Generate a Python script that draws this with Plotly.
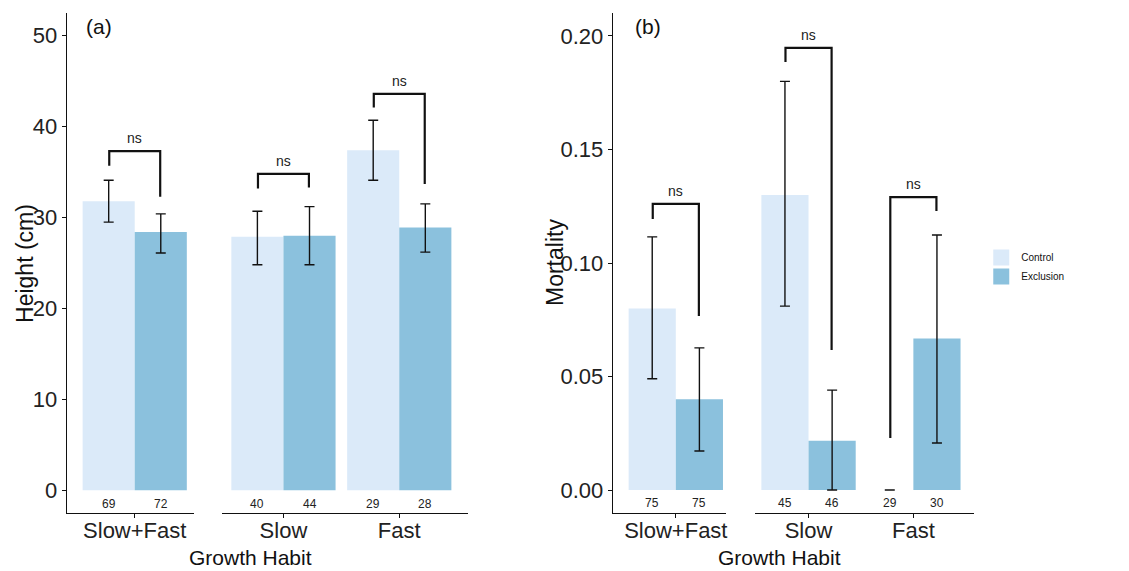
import plotly.graph_objects as go

# ---------------- data ----------------
groups = ["Slow+Fast", "Slow", "Fast"]
treatments = ["Control", "Exclusion"]
bar_colors = ["#DBEAF9", "#8BC1DD"]

# Panel (a): height (cm)
height_control = [31.8, 27.9, 37.4]
height_control_lo = [29.5, 24.8, 34.1]
height_control_hi = [34.1, 30.7, 40.7]
height_exclusion = [28.4, 28.0, 28.9]
height_exclusion_lo = [26.1, 24.8, 26.2]
height_exclusion_hi = [30.4, 31.2, 31.5]
height_n_control = [69, 40, 29]
height_n_exclusion = [72, 44, 28]
height_bracket_top = [37.3, 34.8, 43.6]
height_bracket_left_end = [35.7, 33.2, 42.1]
height_bracket_right_end = [32.3, 33.3, 33.7]

# Panel (b): mortality
mort_control = [0.080, 0.130, 0.0]
mort_control_lo = [0.049, 0.081, 0.0]
mort_control_hi = [0.1115, 0.180, 0.0]
mort_exclusion = [0.040, 0.0217, 0.0667]
mort_exclusion_lo = [0.0172, 0.0, 0.0207]
mort_exclusion_hi = [0.0626, 0.044, 0.1123]
mort_n_control = [75, 45, 29]
mort_n_exclusion = [75, 46, 30]
mort_bracket_top = [0.126, 0.1947, 0.129]
mort_bracket_left_end = [0.1194, 0.1885, 0.0229]
mort_bracket_right_end = [0.0767, 0.0617, 0.1229]

sig_labels = ["ns", "ns", "ns"]

# ---------------- layout helpers ----------------
W, H = 1129, 571
FONT = "Arial, Liberation Sans, sans-serif"


def fx(p):
    return p / W


def fy(p):
    return 1 - p / H


# facet index and position of each group
facet_of = [(0, 0), (1, 0), (1, 1)]

panels = [
    dict(
        yaxis="y", letter="(a)", ytitle="Height (cm)",
        means=[height_control, height_exclusion],
        los=[height_control_lo, height_exclusion_lo],
        his=[height_control_hi, height_exclusion_hi],
        ns=[height_n_control, height_n_exclusion],
        btop=height_bracket_top, bl=height_bracket_left_end, br=height_bracket_right_end,
        xaxes=["x", "x2"],
        yrange=[-2.5, 52.5], ytick=[0, 10, 20, 30, 40, 50], yfmt="d",
        nlabel_y=-1.5,
        xdom=[(67, 194), (222, 469)],
        xrng=[(-0.586, 0.509), (-0.534, 1.595)],
        letter_x=99, ytitle_x=25, xtitle_x=251,
    ),
    dict(
        yaxis="y2", letter="(b)", ytitle="Mortality",
        means=[mort_control, mort_exclusion],
        los=[mort_control_lo, mort_exclusion_lo],
        his=[mort_control_hi, mort_exclusion_hi],
        ns=[mort_n_control, mort_n_exclusion],
        btop=mort_bracket_top, bl=mort_bracket_left_end, br=mort_bracket_right_end,
        xaxes=["x3", "x4"],
        yrange=[-0.0101, 0.2101], ytick=[0, 0.05, 0.10, 0.15, 0.20], yfmt=".2f",
        nlabel_y=-0.0057,
        xdom=[(614, 727), (756, 976)],
        xrng=[(-0.6, 0.476), (-0.514, 1.581)],
        letter_x=649, ytitle_x=556, xtitle_x=781,
    ),
]

BAR_W = 0.45
LEG_DX = 0.22

fig = go.Figure()
annotations = []
layout_axes = {}

for pi, P in enumerate(panels):
    ykey = P["yaxis"]
    for fi in range(2):
        xname = P["xaxes"][fi]
        idxs = [g for g in range(len(groups)) if facet_of[g][0] == fi]
        pos = [facet_of[g][1] for g in idxs]
        # bars
        for ti, tname in enumerate(treatments):
            fig.add_trace(go.Bar(
                x=pos, y=[P["means"][ti][g] for g in idxs],
                width=BAR_W, offset=-BAR_W if ti == 0 else 0,
                marker=dict(color=bar_colors[ti], line=dict(width=0)),
                xaxis=xname, yaxis=ykey, showlegend=False, name=tname,
                hoverinfo="skip",
            ))
        # error bars
        for ti in range(2):
            xs = [p + (-BAR_W / 2 if ti == 0 else BAR_W / 2) for p in pos]
            m = [P["means"][ti][g] for g in idxs]
            hi = [P["his"][ti][g] - P["means"][ti][g] for g in idxs]
            lo = [P["means"][ti][g] - P["los"][ti][g] for g in idxs]
            fig.add_trace(go.Scatter(
                x=xs, y=m, mode="markers",
                marker=dict(size=1, color="rgba(0,0,0,0)"),
                error_y=dict(type="data", symmetric=False, array=hi, arrayminus=lo,
                             color="#111111", thickness=1.4, width=5),
                xaxis=xname, yaxis=ykey, showlegend=False, hoverinfo="skip",
            ))
            # sample size labels
            for g, xv in zip(idxs, xs):
                annotations.append(dict(
                    x=xv, y=P["nlabel_y"], xref=xname, yref=ykey,
                    xanchor="center", yanchor="middle",
                    text=str(P["ns"][ti][g]), showarrow=False,
                    font=dict(size=12, color="#222222", family=FONT),
                ))
        # significance brackets
        for g, p in zip(idxs, pos):
            fig.add_trace(go.Scatter(
                x=[p - LEG_DX, p - LEG_DX, p + LEG_DX, p + LEG_DX],
                y=[P["bl"][g], P["btop"][g], P["btop"][g], P["br"][g]],
                mode="lines", line=dict(color="#111111", width=2.2),
                xaxis=xname, yaxis=ykey, showlegend=False, hoverinfo="skip",
            ))
            annotations.append(dict(
                x=p, y=P["btop"][g], xref=xname, yref=ykey, text=sig_labels[g],
                showarrow=False, xanchor="center", yanchor="bottom", yshift=3,
                font=dict(size=14, color="#222222", family=FONT),
            ))
        # x axis
        key = "xaxis" if xname == "x" else "xaxis" + xname[1:]
        layout_axes[key] = dict(
            domain=[fx(P["xdom"][fi][0]), fx(P["xdom"][fi][1])],
            range=list(P["xrng"][fi]), anchor=ykey,
            tickvals=pos, ticktext=[groups[g] for g in idxs],
            showline=True, linecolor="#111111", linewidth=1.4,
            ticks="outside", ticklen=4, tickcolor="#111111", tickwidth=1.2,
            ticklabelstandoff=-7,
            tickfont=dict(size=22, color="#222222", family=FONT),
            showgrid=False, zeroline=False,
        )
    ykey_l = "yaxis" if ykey == "y" else "yaxis" + ykey[1:]
    layout_axes[ykey_l] = dict(
        domain=[fy(513), fy(13)], range=P["yrange"], anchor=P["xaxes"][0],
        tickvals=P["ytick"], tickformat=P["yfmt"],
        showline=True, linecolor="#111111", linewidth=1.4,
        ticks="outside", ticklen=4, tickcolor="#111111", tickwidth=1.2,
        tickfont=dict(size=22, color="#222222", family=FONT),
        showgrid=False, zeroline=False,
    )
    annotations.append(dict(x=fx(P["letter_x"]), y=fy(27), xref="paper", yref="paper",
                            xanchor="center", yanchor="middle",
                            text=P["letter"], showarrow=False,
                            font=dict(size=21, color="#111111", family=FONT)))
    annotations.append(dict(x=fx(P["ytitle_x"]), y=fy(263), xref="paper", yref="paper",
                            xanchor="center", yanchor="middle",
                            text=P["ytitle"], textangle=-90, showarrow=False,
                            font=dict(size=23, color="#111111", family=FONT)))
    annotations.append(dict(x=fx(P["xtitle_x"]), y=fy(557), xref="paper", yref="paper",
                            xanchor="center", yanchor="middle",
                            text="Growth Habit", showarrow=False,
                            font=dict(size=21, color="#111111", family=FONT)))

# legend entries
for ti, tname in enumerate(treatments):
    fig.add_trace(go.Scatter(
        x=[None], y=[None], mode="markers", name=tname,
        marker=dict(symbol="square", size=16, color=bar_colors[ti]),
        showlegend=True,
    ))

fig.update_layout(
    width=W, height=H,
    margin=dict(l=0, r=0, t=0, b=0),
    paper_bgcolor="white", plot_bgcolor="white",
    barmode="overlay",
    annotations=annotations,
    showlegend=True,
    legend=dict(x=fx(983), y=fy(243), xanchor="left", yanchor="top",
                font=dict(size=10, color="#111111", family=FONT),
                itemsizing="trace", tracegroupgap=0, bgcolor="rgba(0,0,0,0)"),
    font=dict(family=FONT),
    **layout_axes,
)

fig.write_html(
    "out.html",
    config={"displayModeBar": False},
    post_script="document.body.style.margin='0';document.body.style.overflow='hidden';",
)
